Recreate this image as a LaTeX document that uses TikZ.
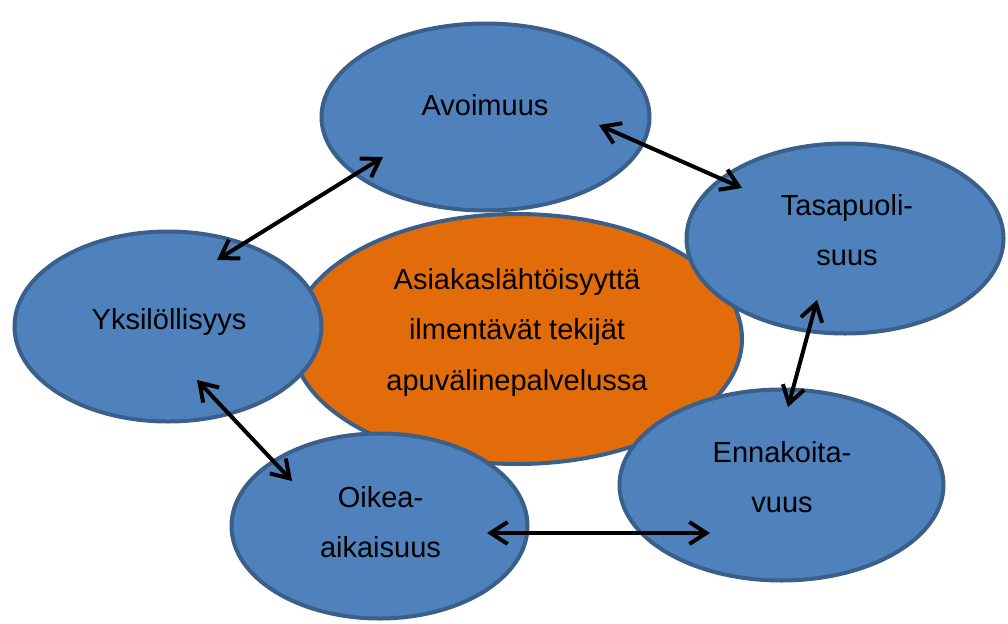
\documentclass[tikz,border=0pt]{standalone}
\usepackage{fontspec}
\setmainfont{Liberation Sans}
\usetikzlibrary{shapes.geometric,arrows.meta}
\definecolor{topicblue}{HTML}{4F81BD}
\definecolor{topicedge}{HTML}{3A5F8B}
\definecolor{coreorange}{HTML}{E36C0A}
% centred multi-line text whose baseline is that of its first line
\newcommand\txtlines[1]{\begin{tabular}[t]{@{}c@{}}#1\end{tabular}}
\begin{document}
\begin{tikzpicture}[x=1pt,y=-1pt,
  bubble/.style={ellipse, draw=topicedge, line width=4pt, fill=topicblue, inner sep=0pt},
  core/.style={bubble, fill=coreorange},
  lbl/.style={font=\fontsize{29}{50.5}\selectfont, inner sep=0pt, anchor=base, text=black},
  conn/.style={{Straight Barb[length=17pt,width=22pt]}-{Straight Barb[length=17pt,width=22pt]},
               line width=4pt, black}]
\useasboundingbox (0,0) rectangle (1008,623);

% central theme
\node[core, minimum width=450pt, minimum height=250pt] (core) at (517,339) {};

% surrounding factors
\node[bubble, minimum width=328pt, minimum height=187pt] (avo)  at (485.5,117) {};
\node[bubble, minimum width=317pt, minimum height=190pt] (tasa) at (845,238.5) {};
\node[bubble, minimum width=307pt, minimum height=190pt] (yks)  at (168,326.5) {};
\node[bubble, minimum width=296pt, minimum height=185pt] (oik)  at (379.5,526) {};
\node[bubble, minimum width=324pt, minimum height=191pt] (enn)  at (781.5,485) {};

% arrow end points
\coordinate (yksA) at (217,260);  \coordinate (avoY) at (383,157);
\coordinate (avoT) at (599,125);  \coordinate (tasaA) at (742,188);
\coordinate (tasaE) at (817,300); \coordinate (ennT) at (788,407);
\coordinate (oikE) at (487,533);  \coordinate (ennO) at (710,533);
\coordinate (yksO) at (197,380);  \coordinate (oikY) at (292,481);

\draw[conn] (yksA) -- (avoY);
\draw[conn] (avoT) -- (tasaA);
\draw[conn] (tasaE) -- (ennT);
\draw[conn] (oikE) -- (ennO);
\draw[conn] (yksO) -- (oikY);

% texts
\node[lbl] (coreText) at (517,289) {\txtlines{Asiakaslähtöisyyttä\\ilmentävät tekijät\\apuvälinepalvelussa}};
\node[lbl] (avoText)  at (485,116) {Avoimuus};
\node[lbl] (tasaText) at (847,215) {\txtlines{Tasapuoli-\\suus}};
\node[lbl] (yksText)  at (169,329) {Yksilöllisyys};
\node[lbl] (oikText)  at (380.5,507) {\txtlines{Oikea-\\aikaisuus}};
\node[lbl] (ennText)  at (782,462) {\txtlines{Ennakoita-\\vuus}};
\end{tikzpicture}
\end{document}
